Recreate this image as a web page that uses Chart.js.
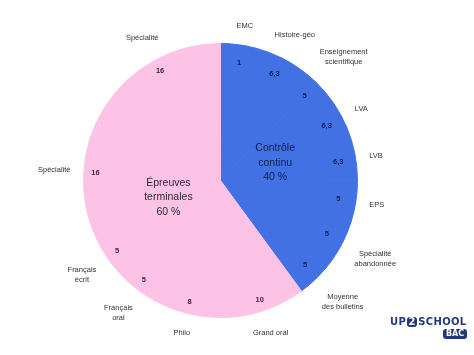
<!DOCTYPE html>
<html><head><meta charset="utf-8">
<script src="https://cdn.jsdelivr.net/npm/chart.js@4"></script>
<style>
html,body{margin:0;padding:0;background:#fff;width:474px;height:355px;overflow:hidden}
#wrap{position:relative;width:474px;height:355px}
canvas{position:absolute;left:0;top:0}
#logo{position:absolute;left:390px;top:316px;font:bold 10px "DejaVu Sans";color:#22397a;white-space:nowrap;letter-spacing:0.3px;line-height:11px}
#logo .two{display:inline-block;background:#22397a;color:#fff;border-radius:3px;padding:0 1.5px;margin:0 1px;line-height:10px}
#bac{position:absolute;left:443px;top:329px;width:24px;height:10px;background:#22397a;border-radius:3px;color:#fff;font:bold 8px "DejaVu Sans";text-align:center;line-height:10px}
</style></head><body>
<div id="wrap">
<canvas id="c" width="474" height="355"></canvas>
<div id="logo">UP<span class="two">2</span>SCHOOL</div>
<div id="bac">BAC</div>
</div>
<script>
// ---- data ----
const categories = ['EMC','Histoire-géo','Enseignement\nscientifique','LVA','LVB','EPS','Spécialité\nabandonnée','Moyenne\ndes bulletins','Grand oral','Philo','Français\noral','Français\nécrit','Spécialité','Spécialité'];
const weights = [1, 6.3, 5, 6.3, 6.3, 5, 5, 5, 10, 8, 5, 5, 16, 16];
const weightLabels = ['1','6,3','5','6,3','6,3','5','5','5','10','8','5','5','16','16'];
const groupOf = [0,0,0,0,0,0,0,0,1,1,1,1,1,1];
const groupNames = [['Contrôle','continu'],['Épreuves','terminales']];
const groupShares = ['40 %','60 %'];

// ---- styles ----
const groupColors = ['#4271E4','#FCC3E6'];
const groupNumColors = ['#0d1f5a','#4a2440'];
const groupTextColors = ['#0e1e52','#2e2a35'];
const groupLabelLayout = ['even','proportional'];
const groupNumRadius = [0.87, 0.915];
const groupTitleRadius = [0.42, 0.4];
const FONT = '"Liberation Sans", Arial, sans-serif';

const labelPlugin = {
  id: 'labels',
  afterDatasetsDraw(chart) {
    const ctx = chart.ctx;
    const meta = chart.getDatasetMeta(0);
    const arcs = meta.data;
    const cx = arcs[0].x, cy = arcs[0].y, R = arcs[0].outerRadius;
    const nGroups = groupNames.length;
    ctx.save();
    ctx.textAlign = 'center';
    ctx.textBaseline = 'middle';
    for (let g = 0; g < nGroups; g++) {
      const idx = [];
      groupOf.forEach((v, i) => { if (v === g) idx.push(i); });
      const gs = arcs[idx[0]].startAngle, ge = arcs[idx[idx.length-1]].endAngle;
      idx.forEach((i, k) => {
        let a;
        if (groupLabelLayout[g] === 'even') a = gs + (k + 0.5) / idx.length * (ge - gs);
        else a = (arcs[i].startAngle + arcs[i].endAngle) / 2;
        // number inside
        const rn = R * groupNumRadius[g];
        ctx.font = 'bold 7.5px ' + FONT;
        ctx.fillStyle = groupNumColors[g];
        ctx.fillText(weightLabels[i], cx + rn * Math.cos(a), cy + rn * Math.sin(a));
        // label outside
        ctx.font = '7.5px ' + FONT;
        ctx.fillStyle = '#333333';
        const lines = categories[i].split('\n');
        const lh = 10.5;
        let w = 0;
        lines.forEach(l => { w = Math.max(w, ctx.measureText(l).width); });
        const hw = w / 2, hh = lines.length * lh / 2;
        const ro = R + 13 + Math.abs(Math.cos(a)) * hw + Math.abs(Math.sin(a)) * hh;
        const lx = cx + ro * Math.cos(a), ly = cy + ro * Math.sin(a);
        lines.forEach((l, j) => {
          ctx.fillText(l, lx, ly - hh + lh * (j + 0.5));
        });
      });
      // group title
      const gm = (gs + ge) / 2;
      const rc = R * groupTitleRadius[g];
      const tx = cx + rc * Math.cos(gm), ty = cy + rc * Math.sin(gm);
      const tl = groupNames[g].concat([groupShares[g]]);
      ctx.font = '10.5px ' + FONT;
      ctx.fillStyle = groupTextColors[g];
      const tlh = 14.5;
      tl.forEach((l, j) => {
        ctx.fillText(l, tx, ty - tl.length * tlh / 2 + tlh * (j + 0.5));
      });
    }
    ctx.restore();
  }
};

const colors = groupOf.map(g => groupColors[g]);
new Chart(document.getElementById('c'), {
  type: 'pie',
  data: {
    labels: categories,
    datasets: [{
      data: weights,
      backgroundColor: colors,
      borderColor: colors,
      borderWidth: 1,
      hoverOffset: 0,
      hoverBorderWidth: 1
    }]
  },
  options: {
    responsive: false,
    animation: false,
    events: [],
    layout: { padding: { top: 43, bottom: 37, left: 83, right: 116 } },
    plugins: { legend: { display: false }, tooltip: { enabled: false } }
  },
  plugins: [labelPlugin]
});
</script>
</body></html>
